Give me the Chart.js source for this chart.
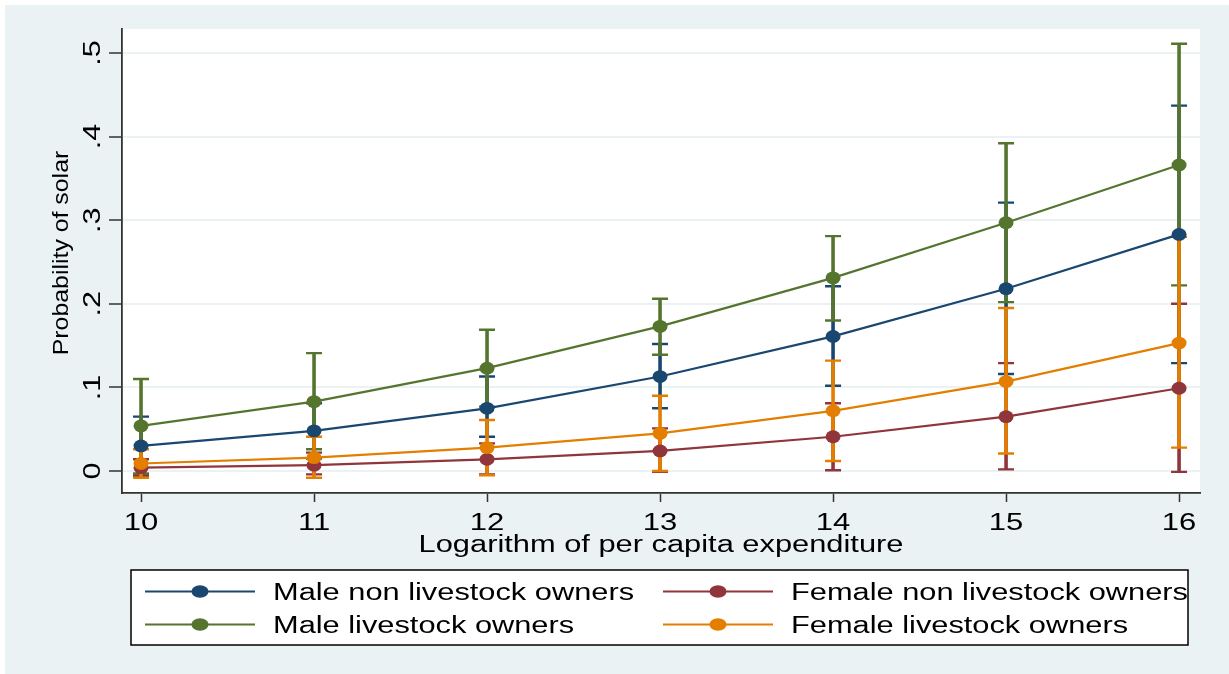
<!DOCTYPE html>
<html>
<head>
<meta charset="utf-8">
<title>Probability of solar</title>
<script src="https://cdn.jsdelivr.net/npm/chart.js@4.4.1/dist/chart.umd.min.js"></script>
<style>
  html, body { margin: 0; padding: 0; background: #eaf2f3; overflow: hidden; }
  #wrap { position: relative; width: 1229px; height: 674px; }
</style>
</head>
<body>
<div id="wrap"><canvas id="chart"></canvas></div>
<script>
/* Predicted probability of solar by log per capita expenditure,
   four groups, with 95% CI caps (Stata s2color look) */

const X_VALUES = [10, 11, 12, 13, 14, 15, 16];

const MALE_NON     = [0.030, 0.048, 0.075, 0.113, 0.161, 0.218, 0.283];
const MALE_NON_LO  = [-0.005, 0.015, 0.041, 0.075, 0.102, 0.116, 0.129];
const MALE_NON_HI  = [0.065, 0.081, 0.113, 0.152, 0.221, 0.321, 0.437];

const FEM_NON      = [0.004, 0.007, 0.014, 0.024, 0.041, 0.065, 0.099];
const FEM_NON_LO   = [-0.006, -0.004, -0.004, -0.001, 0.001, 0.002, -0.001];
const FEM_NON_HI   = [0.014, 0.022, 0.033, 0.051, 0.081, 0.129, 0.200];

const MALE_LIVE    = [0.054, 0.083, 0.123, 0.173, 0.231, 0.297, 0.366];
const MALE_LIVE_LO = [-0.003, 0.026, 0.077, 0.139, 0.180, 0.202, 0.222];
const MALE_LIVE_HI = [0.110, 0.141, 0.169, 0.206, 0.281, 0.392, 0.511];

const FEM_LIVE     = [0.009, 0.016, 0.028, 0.045, 0.072, 0.107, 0.153];
const FEM_LIVE_LO  = [-0.008, -0.008, -0.005, 0.000, 0.012, 0.021, 0.028];
const FEM_LIVE_HI  = [0.026, 0.041, 0.061, 0.090, 0.132, 0.195, 0.280];

const SERIES_NAMES = [
  "Male non livestock owners",
  "Female non livestock owners",
  "Male livestock owners",
  "Female livestock owners"
];
const SERIES_COLORS = ["#1a476f", "#90353b", "#55752f", "#e37e00"];

const X_TICKS = [10, 11, 12, 13, 14, 15, 16];
const X_TICK_LABELS = ["10", "11", "12", "13", "14", "15", "16"];
const Y_TICKS = [0, 0.1, 0.2, 0.3, 0.4, 0.5];
const Y_TICK_LABELS = ["0", ".1", ".2", ".3", ".4", ".5"];

const X_TITLE = "Logarithm of per capita expenditure";
const Y_TITLE = "Probability of solar";

const BG = "#eaf2f3";
const AXIS = "#333333";
const FONT = '"Liberation Sans", Arial, sans-serif';

const series = [
  { y: MALE_NON,  lo: MALE_NON_LO,  hi: MALE_NON_HI },
  { y: FEM_NON,   lo: FEM_NON_LO,   hi: FEM_NON_HI },
  { y: MALE_LIVE, lo: MALE_LIVE_LO, hi: MALE_LIVE_HI },
  { y: FEM_LIVE,  lo: FEM_LIVE_LO,  hi: FEM_LIVE_HI }
];

// text is drawn a bit wide along its run, as in the exported graph
function drawText(ctx, txt, x, y, o) {
  ctx.save();
  ctx.translate(x, y);
  if (o.rotate) ctx.rotate(o.rotate);
  ctx.scale(o.sx || 1, 1);
  ctx.font = o.font;
  ctx.fillStyle = "#000";
  ctx.textAlign = o.align || "left";
  ctx.textBaseline = "alphabetic";
  ctx.fillText(txt, 0, 0);
  ctx.restore();
}

function ellipse(ctx, x, y, rx, ry, color) {
  ctx.beginPath();
  ctx.ellipse(x, y, rx, ry, 0, 0, Math.PI * 2);
  ctx.fillStyle = color;
  ctx.fill();
}

const backgroundPlugin = {
  id: "bg",
  beforeDraw(chart) {
    const { ctx, chartArea: a, width, height } = chart;
    ctx.save();
    ctx.fillStyle = "#fff";
    ctx.fillRect(0, 0, width, height);
    ctx.fillStyle = BG;
    ctx.fillRect(5, 5, width, height);
    ctx.fillStyle = "#fff";
    ctx.fillRect(a.left, a.top, a.right - a.left, a.bottom - a.top);
    ctx.restore();
  }
};

// CI caps under the lines: blue, red, green, orange
const errorBarPlugin = {
  id: "errbars",
  beforeDatasetsDraw(chart) {
    const { ctx, scales: { x, y } } = chart;
    ctx.save();
    ctx.lineCap = "butt";
    series.forEach((s, i) => {
      ctx.strokeStyle = SERIES_COLORS[i];
      X_VALUES.forEach((xv, j) => {
        const px = x.getPixelForValue(xv);
        const pl = y.getPixelForValue(s.lo[j]);
        const ph = y.getPixelForValue(s.hi[j]);
        ctx.lineWidth = 3.6;
        ctx.beginPath();
        ctx.moveTo(px, pl); ctx.lineTo(px, ph);
        ctx.stroke();
        ctx.lineWidth = 2.4;
        ctx.beginPath();
        ctx.moveTo(px - 8, pl); ctx.lineTo(px + 8, pl);
        ctx.moveTo(px - 8, ph); ctx.lineTo(px + 8, ph);
        ctx.stroke();
      });
    });
    ctx.restore();
  },
  afterDatasetsDraw(chart) {
    const ctx = chart.ctx;
    ctx.save();
    chart.data.datasets.forEach((ds, i) => {
      chart.getDatasetMeta(i).data.forEach(pt => {
        ellipse(ctx, pt.x, pt.y, 7.5, 6.4, ds.borderColor);
      });
    });
    ctx.restore();
  }
};

const labelsPlugin = {
  id: "labels",
  afterDraw(chart) {
    const { ctx, scales: { x, y } } = chart;
    const tickFont = "23.5px " + FONT;

    x.ticks.forEach((t, i) => {
      drawText(ctx, X_TICK_LABELS[i], x.getPixelForValue(t.value), 530,
        { font: tickFont, sx: 1.32, align: "center" });
    });
    y.ticks.forEach((t, i) => {
      drawText(ctx, Y_TICK_LABELS[i], 100, y.getPixelForValue(t.value),
        { font: tickFont, sx: 1.3, align: "center", rotate: -Math.PI / 2 });
    });

    drawText(ctx, X_TITLE, (x.left + x.right) / 2, 552,
      { font: "23px " + FONT, sx: 1.34, align: "center" });
    drawText(ctx, Y_TITLE, 68, 253,
      { font: "22px " + FONT, sx: 1.13, align: "center", rotate: -Math.PI / 2 });

    // legend box
    ctx.save();
    ctx.fillStyle = "#fff";
    ctx.fillRect(131, 570, 1057, 75);
    ctx.strokeStyle = "#000";
    ctx.lineWidth = 1.5;
    ctx.strokeRect(131, 570, 1057, 75);
    const cols = [145, 663];
    const rows = [591.5, 624.5];
    SERIES_NAMES.forEach((name, i) => {
      const cx = cols[i % 2], cy = rows[Math.floor(i / 2)];
      ctx.strokeStyle = SERIES_COLORS[i];
      ctx.lineWidth = 2.2;
      ctx.beginPath();
      ctx.moveTo(cx, cy); ctx.lineTo(cx + 110, cy);
      ctx.stroke();
      ellipse(ctx, cx + 55, cy, 8.5, 6.2, SERIES_COLORS[i]);
      drawText(ctx, name, cx + 128, cy + 8.5,
        { font: "23.5px " + FONT, sx: 1.31, align: "left" });
    });
    ctx.restore();
  }
};

const datasets = series.map((s, i) => ({
  label: SERIES_NAMES[i],
  data: X_VALUES.map((xv, j) => ({ x: xv, y: s.y[j] })),
  borderColor: SERIES_COLORS[i],
  backgroundColor: SERIES_COLORS[i],
  borderWidth: 2.2,
  pointRadius: 0,
  tension: 0
}));

new Chart(document.getElementById("chart"), {
  type: "line",
  data: { datasets },
  plugins: [backgroundPlugin, errorBarPlugin, labelsPlugin],
  options: {
    responsive: true,
    maintainAspectRatio: false,
    animation: false,
    parsing: false,
    layout: { padding: { left: 0, right: 29, top: 29, bottom: 121 } },
    plugins: { legend: { display: false }, tooltip: { enabled: false } },
    scales: {
      x: {
        type: "linear",
        min: 9.89,
        max: 16.121,
        afterBuildTicks: s => { s.ticks = X_TICKS.map(v => ({ value: v })); },
        afterFit: s => { s.height = 60; },
        ticks: { display: false },
        grid: { drawOnChartArea: false, drawTicks: true, tickLength: 9, tickColor: AXIS, tickWidth: 1.5 },
        border: { display: true, color: AXIS, width: 1.8 }
      },
      y: {
        type: "linear",
        min: -0.0263,
        max: 0.5287,
        afterBuildTicks: s => { s.ticks = Y_TICKS.map(v => ({ value: v })); },
        afterFit: s => { s.width = 122; },
        ticks: { display: false },
        grid: { color: BG, lineWidth: 2, drawTicks: true, tickLength: 13, tickColor: AXIS, tickWidth: 1.5 },
        border: { display: true, color: AXIS, width: 1.8 }
      }
    }
  }
});
</script>
</body>
</html>
